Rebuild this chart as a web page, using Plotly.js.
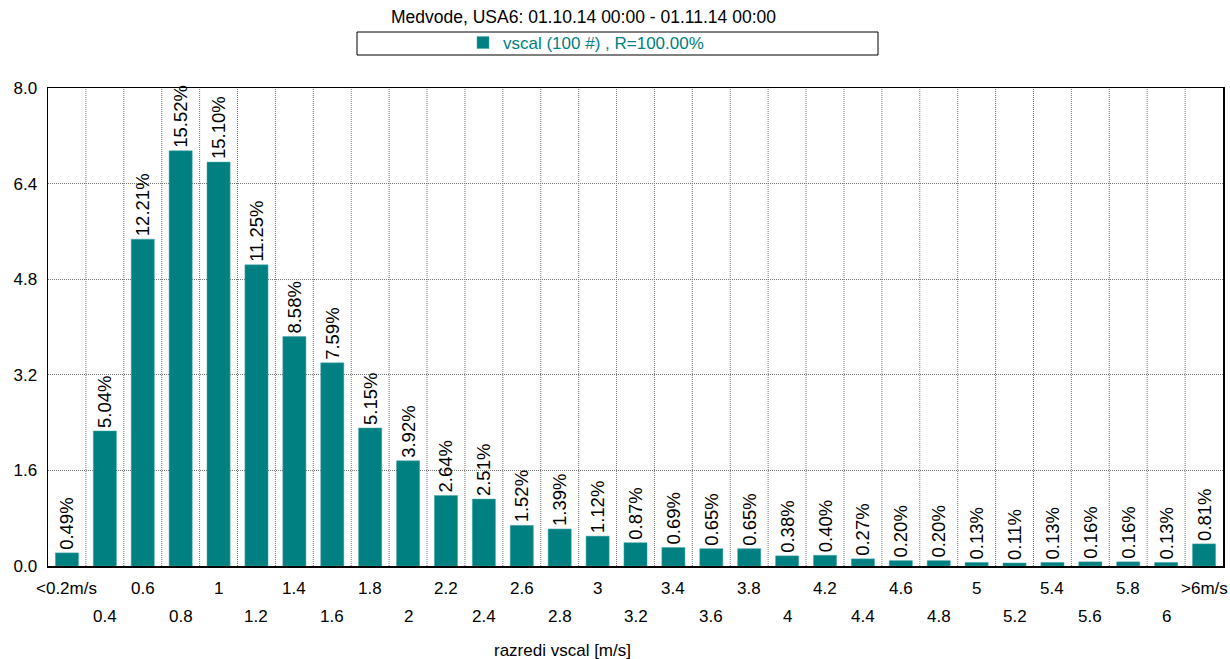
<!DOCTYPE html>
<html>
<head>
<meta charset="utf-8">
<script src="https://cdn.plot.ly/plotly-3.0.1.min.js"></script>
<style>html,body{margin:0;padding:0;background:#fff;}#chart{width:1230px;height:659px;}</style>
</head>
<body>
<div id="chart"></div>
<script>
// Class labels (m/s)
const categories = ["<0.2m/s","0.4","0.6","0.8","1","1.2","1.4","1.6","1.8","2","2.2","2.4","2.6","2.8","3","3.2","3.4","3.6","3.8","4","4.2","4.4","4.6","4.8","5","5.2","5.4","5.6","5.8","6",">6m/s"];
// Bar heights
const heights = [0.22,2.26,5.47,6.95,6.76,5.04,3.84,3.40,2.31,1.76,1.18,1.12,0.68,0.62,0.50,0.39,0.31,0.29,0.29,0.17,0.18,0.12,0.09,0.09,0.06,0.05,0.06,0.07,0.07,0.06,0.37];
// Percent labels on the bars
const percents = ["0.49%","5.04%","12.21%","15.52%","15.10%","11.25%","8.58%","7.59%","5.15%","3.92%","2.64%","2.51%","1.52%","1.39%","1.12%","0.87%","0.69%","0.65%","0.65%","0.38%","0.40%","0.27%","0.20%","0.20%","0.13%","0.11%","0.13%","0.16%","0.16%","0.13%","0.81%"];
const yTicks = [0, 1.6, 3.2, 4.8, 6.4, 8.0];

const esc = s => s.replace(/</g,"&lt;").replace(/>/g,"&gt;");
const idx = categories.map((c,i)=>i);

const FONT = "Liberation Sans, Arial, sans-serif";
const teal = "#008080";
const PL = 48, PR = 1223, PT = 88, PB = 566;
const PW = PR - PL, PH = PB - PT;
const px = x => (x - PL) / PW;
const py = y => (PB - y) / PH;

const trace = {
  type: "bar",
  x: idx,
  y: heights,
  name: "vscal (100 #) , R=100.00%",
  showlegend: true,
  marker: {color: teal, line: {color: "#4aa6a6", width: 0.5}},
  text: percents,
  textposition: "outside",
  textangle: -90,
  constraintext: "none",
  cliponaxis: false,
  textfont: {family: FONT, size: 18.5, color: "#000"},
  hoverinfo: "skip"
};

const tickAnnotations = categories.map((c,i) => ({
  text: esc(c), xref: "x", yref: "paper", x: i,
  y: py(i % 2 === 0 ? 588 : 616), xanchor: "center", yanchor: "middle",
  showarrow: false, font: {family: FONT, size: 17, color: "#000"}
}));

const layout = {
  width: 1230, height: 659,
  margin: {l: PL, r: 1230 - PR, t: PT, b: 659 - PB},
  paper_bgcolor: "#fff", plot_bgcolor: "#fff",
  font: {family: FONT, size: 17, color: "#000"},
  bargap: 0.39,
  showlegend: true,
  legend: {
    orientation: "h", x: px(586), xanchor: "center", xref: "paper",
    y: py(43), yanchor: "middle", yref: "paper",
    bgcolor: "rgba(0,0,0,0)", borderwidth: 0,
    font: {family: FONT, size: 17, color: teal}
  },
  xaxis: {
    type: "linear",
    range: [-0.5, categories.length - 0.5],
    tickmode: "array", tickvals: [], showticklabels: false,
    showgrid: false, zeroline: false,
    showline: true, linecolor: "#000", linewidth: 1.5, mirror: true,
    ticks: "", fixedrange: true
  },
  yaxis: {
    range: [0, 8.0],
    tickmode: "array", tickvals: yTicks, ticktext: yTicks.map(v=>v.toFixed(1)),
    showgrid: true, gridcolor: "#777", griddash: "1px,1px", gridwidth: 1,
    zeroline: false, showline: true, linecolor: "#000", linewidth: 1.5, mirror: true,
    ticks: "", ticklabelstandoff: 6,
    tickfont: {family: FONT, size: 17, color: "#000"},
    fixedrange: true
  },
  shapes: [
    {type: "rect", xref: "paper", yref: "paper", x0: px(357), x1: px(878),
     y0: py(55), y1: py(32), line: {color: "#000", width: 1}, fillcolor: "rgba(0,0,0,0)"}
  ].concat(idx.slice(1).map(i => ({
    type: "line", xref: "x", yref: "paper", x0: i - 0.5, x1: i - 0.5, y0: 0, y1: 1,
    line: {color: "#777", width: 1, dash: "1px,1px"}, layer: "below"
  }))),
  annotations: [
    {text: "Medvode, USA6: 01.10.14 00:00 - 01.11.14 00:00", xref: "paper", yref: "paper",
     x: px(583), y: py(17), xanchor: "center", yanchor: "middle", showarrow: false,
     font: {family: FONT, size: 17.5, color: "#000"}},
    {text: "razredi vscal [m/s]", xref: "paper", yref: "paper",
     x: px(562), y: py(650), xanchor: "center", yanchor: "middle", showarrow: false,
     font: {family: FONT, size: 17, color: "#000"}}
  ].concat(tickAnnotations)
};

Plotly.newPlot("chart", [trace], layout, {displayModeBar: false, staticPlot: true});
</script>
</body>
</html>
